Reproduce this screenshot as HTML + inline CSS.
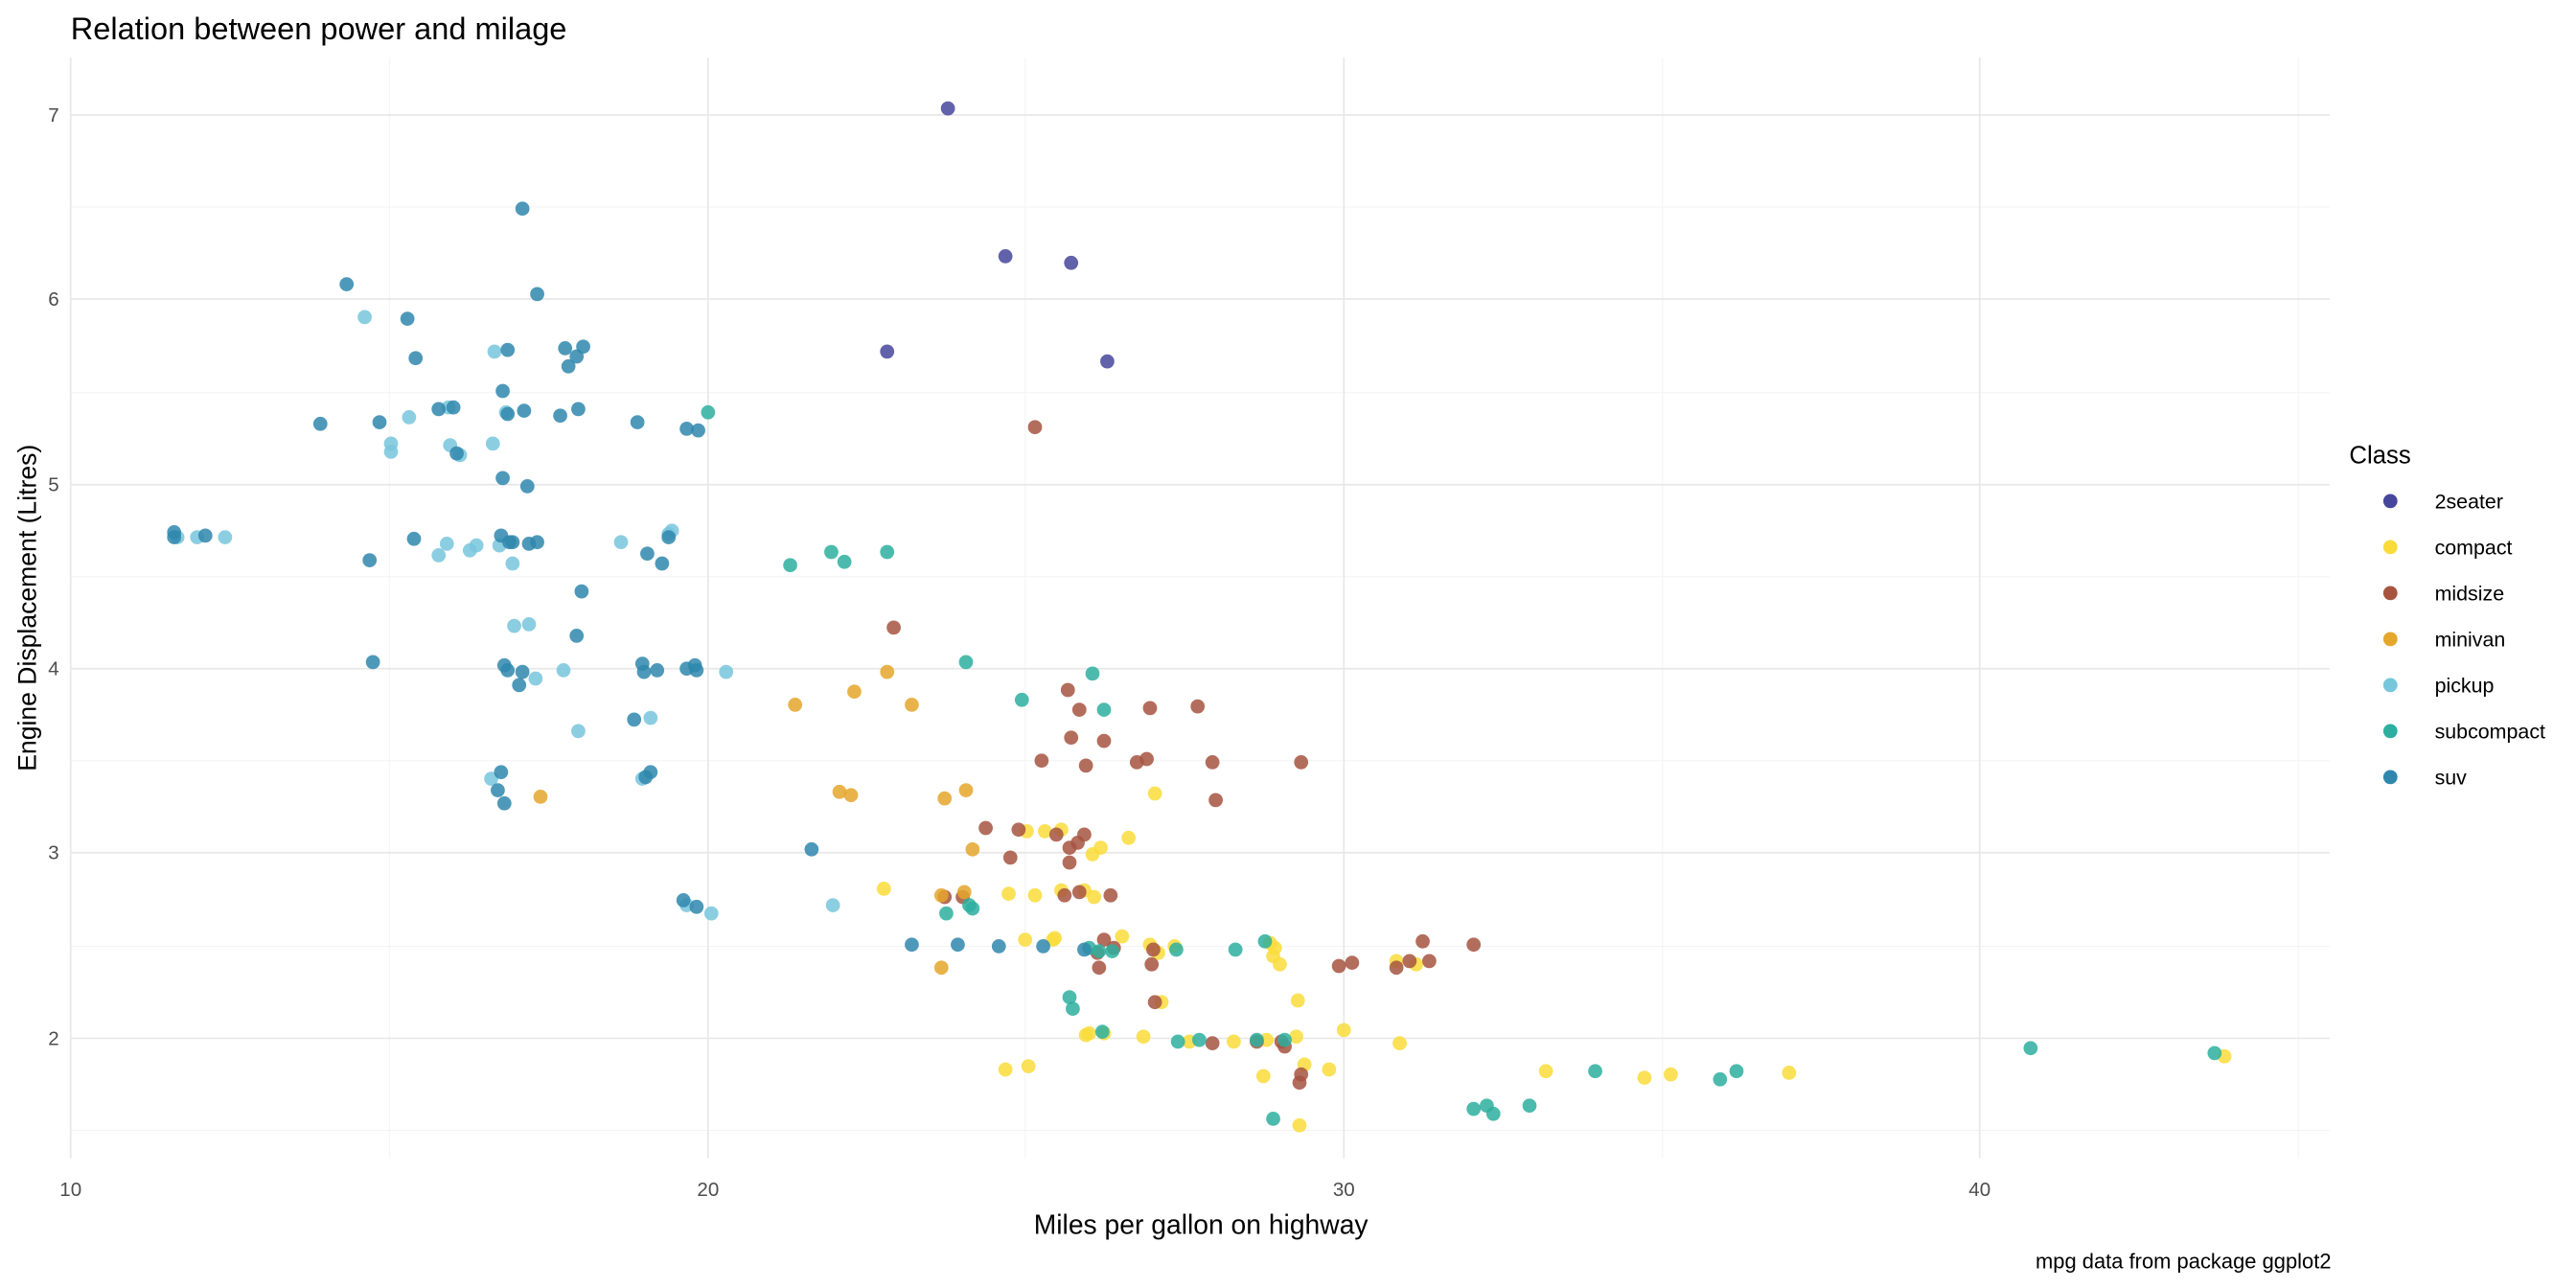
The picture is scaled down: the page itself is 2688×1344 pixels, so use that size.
<!DOCTYPE html>
<html><head><meta charset="utf-8"><style>html,body{margin:0;padding:0;background:#fff}svg{display:block}</style></head>
<body>
<svg id="s" width="2688" height="1344" viewBox="0 0 1568 784" xmlns="http://www.w3.org/2000/svg" font-family="Liberation Sans, Arial, sans-serif">
<g id="grid"></g>
<g id="pts"></g>
<text x="43" y="24" font-size="19" fill="#000">Relation between power and milage</text>
<g font-size="12" fill="#4d4d4d" text-anchor="end">
<text x="36" y="74">7</text><text x="36" y="186">6</text><text x="36" y="299">5</text><text x="36" y="411">4</text><text x="36" y="523">3</text><text x="36" y="636">2</text>
</g>
<g font-size="12" fill="#4d4d4d" text-anchor="middle">
<text x="43" y="728">10</text><text x="431" y="728">20</text><text x="818" y="728">30</text><text x="1205" y="728">40</text>
</g>
<text x="731" y="751" font-size="16.5" text-anchor="middle">Miles per gallon on highway</text>
<text transform="translate(22,370) rotate(-90)" font-size="15.5" text-anchor="middle">Engine Displacement (Litres)</text>
<text x="1419" y="772" font-size="12.8" text-anchor="end">mpg data from package ggplot2</text>
<text x="1430" y="282" font-size="15">Class</text>
<g id="leg" font-size="12.5"></g>
</svg>
<script>
var C={a:"#46479b",c:"#f9dc3a",m:"#a65440",v:"#e5a62c",p:"#78c6dc",s:"#2daf9f",u:"#2f87ad"};
var ns="http://www.w3.org/2000/svg";
function el(p,t,a){var e=document.createElementNS(ns,t);for(var k in a)e.setAttribute(k,a[k]);p.appendChild(e);return e;}
var g=document.getElementById("grid");
[126,239,351,463,576,688].forEach(function(y){el(g,"line",{x1:43,x2:1418,y1:y,y2:y,stroke:"#f3f3f3","stroke-width":0.6});});
[237,624,1012,1399].forEach(function(x){el(g,"line",{x1:x,x2:x,y1:35,y2:705,stroke:"#f3f3f3","stroke-width":0.6});});
[70,182,295,407,519,632].forEach(function(y){el(g,"line",{x1:43,x2:1418,y1:y,y2:y,stroke:"#e8e8e8","stroke-width":1});});
[43,431,818,1205].forEach(function(x){el(g,"line",{x1:x,x2:x,y1:35,y2:705,stroke:"#e8e8e8","stroke-width":1});});
var D={
a:[[577,66],[612,156],[652,160],[540,214],[674,220]],
u:[[106,324],[106,327],[125,326],[195,258],[211,173],[248,194],[253,218],[231,257],[225,341],[227,403],[252,328],[267,249],[276,248],[278,276],[306,238],[318,127],[327,179],[309,213],[309,252],[319,250],[344,212],[351,217],[346,223],[355,211],[341,253],[352,249],[306,291],[321,296],[305,326],[312,330],[322,331],[327,330],[310,330],[307,405],[309,408],[318,409],[316,417],[354,360],[351,387],[388,257],[418,261],[425,262],[394,337],[403,343],[407,327],[391,404],[392,409],[400,408],[423,405],[424,408],[418,407],[305,470],[303,481],[307,489],[386,438],[396,470],[393,473],[416,548],[424,552],[494,517],[555,575],[583,575],[608,576],[635,576],[660,578]],
p:[[108,327],[120,327],[137,327],[222,193],[238,270],[238,275],[249,254],[274,271],[280,277],[301,214],[300,270],[308,251],[273,248],[267,338],[272,331],[286,335],[290,332],[304,332],[312,343],[313,381],[322,380],[326,413],[343,408],[352,445],[378,330],[407,325],[409,323],[396,437],[391,474],[418,551],[433,556],[442,409],[507,551],[299,474]],
s:[[431,251],[481,344],[506,336],[514,342],[540,336],[588,403],[622,426],[665,410],[672,432],[576,556],[590,551],[592,553],[651,607],[653,614],[671,628],[663,577],[669,579],[677,579],[716,578],[717,634],[730,633],[752,578],[765,633],[770,573],[775,681],[782,633],[897,675],[905,673],[909,678],[931,673],[971,652],[1047,657],[1057,652],[1236,638],[1348,641]],
c:[[612,651],[625,506],[626,649],[624,572],[636,506],[630,545],[641,572],[646,542],[646,505],[660,542],[661,630],[663,629],[666,546],[670,516],[672,629],[683,570],[687,510],[696,631],[700,575],[703,483],[705,580],[707,610],[715,576],[724,634],[751,634],[769,655],[771,633],[773,574],[776,577],[775,582],[779,587],[790,609],[791,685],[789,631],[794,648],[809,651],[818,627],[850,585],[852,635],[862,587],[941,652],[1001,656],[1017,654],[1089,653],[1354,643],[538,541],[614,544],[665,520],[642,571]],
m:[[544,382],[630,260],[586,546],[600,504],[615,522],[620,505],[634,463],[643,508],[651,516],[656,513],[651,525],[657,543],[660,508],[657,432],[661,466],[652,449],[672,451],[676,545],[672,572],[668,580],[669,589],[678,577],[702,578],[701,587],[703,610],[692,464],[700,431],[698,462],[729,430],[738,464],[740,487],[738,635],[765,634],[780,634],[782,637],[792,654],[791,659],[792,464],[815,588],[823,586],[850,589],[858,585],[866,573],[870,585],[897,575],[575,546],[650,420],[648,545]],
v:[[329,485],[484,429],[520,421],[540,409],[555,429],[511,482],[518,484],[575,486],[588,481],[573,545],[587,543],[592,517],[573,589]]
};
var P=document.getElementById("pts");
["a","c","m","v","p","s","u"].forEach(function(k){D[k].forEach(function(q){el(P,"circle",{cx:q[0],cy:q[1],r:4.3,fill:C[k],"fill-opacity":0.85});});});
var L=document.getElementById("leg");
[["a","2seater"],["c","compact"],["m","midsize"],["v","minivan"],["p","pickup"],["s","subcompact"],["u","suv"]].forEach(function(it,i){
var y=305+i*28;el(L,"circle",{cx:1455,cy:y,r:4.3,fill:C[it[0]]});var t=el(L,"text",{x:1482,y:y+4.5});t.textContent=it[1];});
</script>
</body></html>
